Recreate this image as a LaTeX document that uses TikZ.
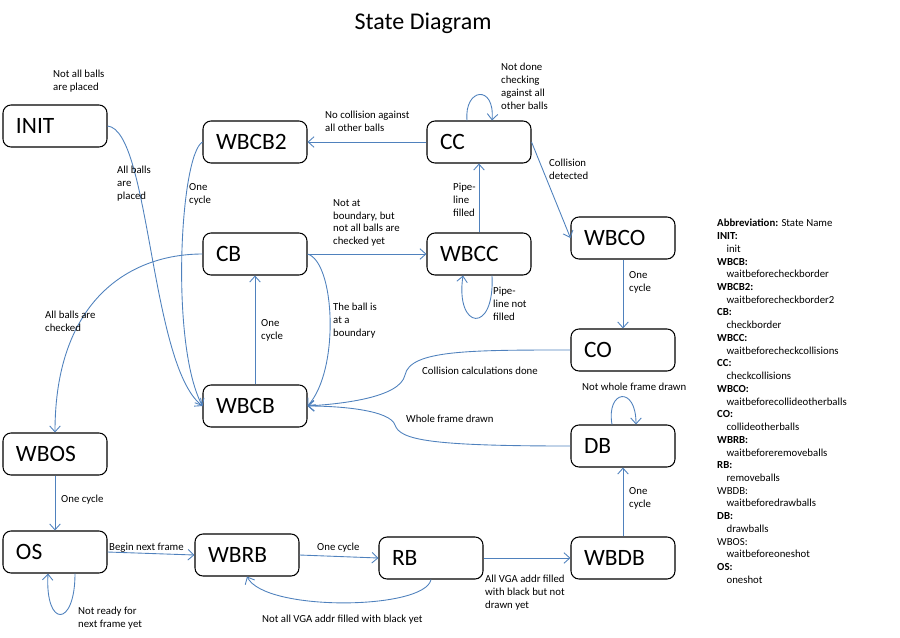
\documentclass[tikz,border=0pt]{standalone}
\usepackage{fontspec}
\setmainfont{Carlito}
\usetikzlibrary{arrows.meta}
\definecolor{arrowblue}{RGB}{79,129,189}
\newcommand{\ind}{\hspace*{8pt}}
\tikzset{
  state/.style={draw, line width=0.9pt, rounded corners=0.24cm, minimum width=3.12cm, minimum height=1.26cm,
    inner xsep=0.39cm, text width=2.34cm, align=left, font=\fontsize{20}{22}\selectfont},
  lbl/.style={anchor=north west, inner sep=0pt, align=left, font=\fontsize{9.2}{11}\selectfont},
  trans/.style={draw=arrowblue, line width=0.75pt, -{Straight Barb[length=5pt,width=9pt]}}
}

\begin{document}
\begin{tikzpicture}[x=0.03cm, y=-0.03cm]
    \useasboundingbox (0,0) rectangle (900,637);

    % Title
    \node[font=\fontsize{20.5}{23}\selectfont] (title) at (423,23) {State Diagram};

    % States
    \node[state] (init) at (55,126) {INIT};
    \node[state] (wbcb2) at (255,142) {WBCB2};
    \node[state] (cc) at (479,142) {CC};
    \node[state] (cb) at (255,254) {CB};
    \node[state] (wbcc) at (479,254) {WBCC};
    \node[state] (wbco) at (623,238) {WBCO};
    \node[state] (co) at (623,350) {CO};
    \node[state] (wbcb) at (255,406) {WBCB};
    \node[state] (db) at (623,446) {DB};
    \node[state] (wbos) at (55,454) {WBOS};
    \node[state] (os) at (55,552) {OS};
    \node[state] (wbrb) at (247,555) {WBRB};
    \node[state] (rb) at (431,558) {RB};
    \node[state] (wbdb) at (623,558) {WBDB};

    % Transitions
    \draw[trans] (init.east) .. controls (150,130) and (150,365) .. (wbcb.west);
    \draw[trans] (wbcb2.west) .. controls (180,155) and (170,345) .. (wbcb.west);
    \draw[trans] (cb.west) .. controls (130,254) and (55,300) .. (wbos.north);
    \draw[trans] (cb.east) -- (wbcc.west);
    \draw[trans] (cb.east) .. controls (335,262) and (340,370) .. (wbcb.east);
    \draw[trans] (wbcb.north) -- (cb.south);
    \draw[trans] (cc.west) -- (wbcb2.east);
    \draw[trans] ([xshift=-0.36cm]cc.north) .. controls (464,88) and (495,84) .. ([xshift=0.39cm]cc.north);
    \draw[trans] (wbcc.north) -- (cc.south);
    \draw[trans] ([xshift=0.39cm]wbcc.south) .. controls (495,335) and (455,330) .. ([xshift=-0.48cm]wbcc.south);
    \draw[trans] (cc.east) -- (wbco.west);
    \draw[trans] (wbco.south) -- (co.north);
    \draw[trans] (co.west) .. controls (470,350) and (410,350) .. (405,375)
        .. controls (400,398) and (340,404) .. (wbcb.east);
    \draw[trans] (db.west) .. controls (430,446) and (400,440) .. (395,425)
        .. controls (390,410) and (340,406) .. (wbcb.east);
    \draw[trans] ([xshift=-0.33cm]db.north) .. controls (606,390) and (636,385) .. ([xshift=0.39cm]db.north);
    \draw[trans] (wbdb.north) -- (db.south);
    \draw[trans] (wbos.south) -- (os.north);
    \draw[trans] ([xshift=0.6cm]os.south) .. controls (75,628) and (45,628) .. ([xshift=-0.21cm]os.south);
    \draw[trans] (os.east) -- (wbrb.west);
    \draw[trans] (wbrb.east) -- (rb.west);
    \draw[trans] (rb.south) .. controls (425,610) and (265,612) .. (wbrb.south);
    \draw[trans] (rb.east) -- (wbdb.west);

    % Transition labels
    \node[lbl] (l1) at (53,70) {Not all balls\\are placed};
    \node[lbl] (l2) at (117,166) {All balls\\are\\placed};
    \node[lbl] (l3) at (189,183) {One\\cycle};
    \node[lbl] (l4) at (325,111) {No collision against\\all other balls};
    \node[lbl] (l5) at (333,199) {Not at\\boundary, but\\not all balls are\\checked yet};
    \node[lbl] (l6) at (45,311) {All balls are\\checked};
    \node[lbl] (l7) at (261,319) {One\\cycle};
    \node[lbl] (l8) at (333,303) {The ball is\\at a\\boundary};
    \node[lbl] (l9) at (501,63) {Not done\\checking\\against all\\other balls};
    \node[lbl] (l10) at (453,183) {Pipe-\\line\\filled};
    \node[lbl] (l11) at (549,159) {Collision\\detected};
    \node[lbl] (l12) at (629,271) {One\\cycle};
    \node[lbl] (l13) at (493,287) {Pipe-\\line not\\filled};
    \node[lbl] (l14) at (422,367) {Collision calculations done};
    \node[lbl] (l15) at (406,415) {Whole frame drawn};
    \node[lbl] (l16) at (582,383) {Not whole frame drawn};
    \node[lbl] (l17) at (629,487) {One\\cycle};
    \node[lbl] (l18) at (485,575) {All VGA addr filled\\with black but not\\drawn yet};
    \node[lbl] (l19) at (61,495) {One cycle};
    \node[lbl] (l20) at (109,543) {Begin next frame};
    \node[lbl] (l21) at (317,543) {One cycle};
    \node[lbl] (l22) at (78,607) {Not ready for\\next frame yet};
    \node[lbl] (l23) at (262,615) {Not all VGA addr filled with black yet};

    % Legend
    \node[lbl, font=\fontsize{9.2}{10.87}\selectfont] (legend) at (717,219) {%
      \textbf{Abbreviation:} State Name\\
      \textbf{INIT:}\\ \ind init\\
      \textbf{WBCB:}\\ \ind waitbeforecheckborder\\
      \textbf{WBCB2:}\\ \ind waitbeforecheckborder2\\
      \textbf{CB:}\\ \ind checkborder\\
      \textbf{WBCC:}\\ \ind waitbeforecheckcollisions\\
      \textbf{CC:}\\ \ind checkcollisions\\
      \textbf{WBCO:}\\ \ind waitbeforecollideotherballs\\
      \textbf{CO:}\\ \ind collideotherballs\\
      \textbf{WBRB:}\\ \ind waitbeforeremoveballs\\
      \textbf{RB:}\\ \ind removeballs\\
      WBDB:\\ \ind waitbeforedrawballs\\
      \textbf{DB:}\\ \ind drawballs\\
      WBOS:\\ \ind waitbeforeoneshot\\
      \textbf{OS:}\\ \ind oneshot};
\end{tikzpicture}
\end{document}
